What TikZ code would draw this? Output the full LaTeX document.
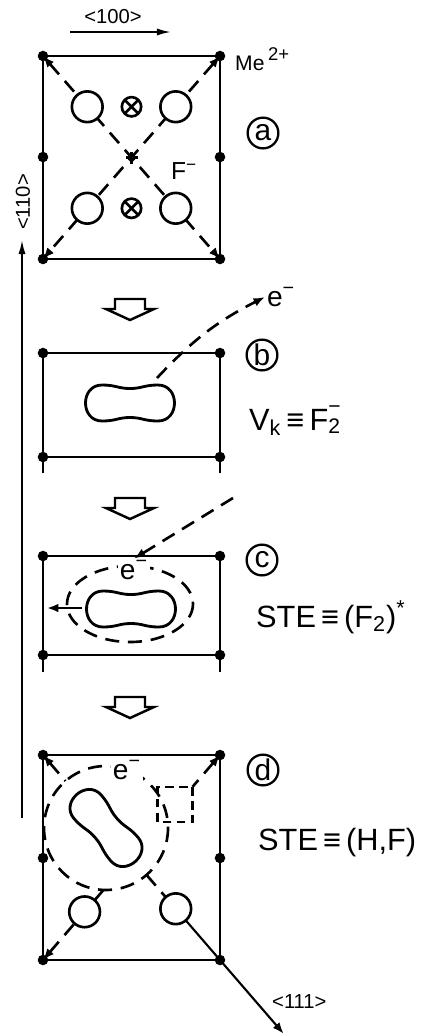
\documentclass[tikz,border=0pt]{standalone}
\usepackage{fontspec}
\setmainfont{Liberation Sans}
\usetikzlibrary{arrows.meta,calc}

\tikzset{
  frame/.style={line width=1.6pt},
  diag/.style={line width=1.5pt, dash pattern=on 8pt off 5pt},
  site/.style={circle, fill, inner sep=0pt, minimum size=6pt},
  ion/.style={circle, draw, fill=white, line width=1.5pt, minimum size=17.5pt, inner sep=0pt},
  hole/.style={circle, draw, fill=white, line width=1.5pt, minimum size=11pt, inner sep=0pt,
    path picture={\draw[line width=1.5pt] (path picture bounding box.north west) -- (path picture bounding box.south east)
      (path picture bounding box.north east) -- (path picture bounding box.south west);}},
  tag/.style={circle, draw, line width=1.3pt, minimum size=17.5pt, inner sep=0pt, font=\fontsize{17}{17}\selectfont},
  big/.style={font=\fontsize{17.5}{18}\selectfont},
  small/.style={font=\fontsize{11.5}{12}\selectfont},
  elec/.style={font=\fontsize{16}{16}\selectfont, inner sep=1pt, fill=white},
  axis/.style={line width=1pt, -{Latex[length=8pt,width=4pt]}}
}

% subscript with a superscript stacked above it
\newcommand{\subsup}[2]{\makebox[0pt][l]{\raisebox{-.12em}{\fontsize{12}{12}\selectfont #1}}\raisebox{.55em}{\fontsize{12}{12}\selectfont #2}}
% F2 molecule outline, drawn round the origin and moved by the options
\newcommand{\molecule}[1]{\draw[frame,#1] (-28,-18) .. controls (-14,-18) and (-12,-14.5) .. (0,-14.5)
  .. controls (12,-14.5) and (14,-18) .. (28,-18) .. controls (50,-18) and (50,18) .. (28,18)
  .. controls (14,18) and (12,14.5) .. (0,14.5) .. controls (-12,14.5) and (-14,18) .. (-28,18)
  .. controls (-50,18) and (-50,-18) .. (-28,-18) -- cycle;}

\begin{document}
\begin{tikzpicture}[x=0.02cm, y=-0.02cm, >={Latex[length=6.5pt,width=5pt]}]
\useasboundingbox (0,0) rectangle (422,1036);

% crystal axes
\node[small] (l100) at (113,17) {<100>};
\coordinate (x0) at (70,32);
\coordinate (x1) at (171,32);
\draw[axis] (x0) -- (x1);
\node[small, rotate=90] (l110) at (23,202) {<110>};
\coordinate (y0) at (22,818);
\coordinate (y1) at (22,240);
\draw[axis] (y0) -- (y1);

% (a) undisturbed lattice
\coordinate (a1) at (43,56);
\coordinate (a2) at (220,56);
\coordinate (a3) at (43,259);
\coordinate (a4) at (220,259);
\coordinate (a5) at (43,157);
\coordinate (a6) at (220,157);
\coordinate (ac) at ($(a1)!0.5!(a4)$);
\draw[frame] (a1) rectangle (a4);
\draw[diag,<->] (a1) -- (a4);
\draw[diag,<->] (a2) -- (a3);
\draw[frame] ($(ac)+(-6,0)$) -- ($(ac)+(6,0)$) ($(ac)+(0,-6)$) -- ($(ac)+(0,6)$);
\node[ion] (fa1) at ($(a1)!0.25!(a4)$) {};
\node[ion] (fa2) at ($(a2)!0.25!(a3)$) {};
\node[ion] (fa3) at ($(a2)!0.75!(a3)$) {};
\node[ion] (fa4) at ($(a1)!0.75!(a4)$) {};
\node[hole] (va1) at ($(fa1)!0.5!(fa2)$) {};
\node[hole] (va2) at ($(fa3)!0.5!(fa4)$) {};
\foreach \p in {a1,a2,a3,a4,a5,a6} \node[site] (s-\p) at (\p) {};
\node[font=\fontsize{14}{14}\selectfont] (fminus) at (184,171) {F\textsuperscript{−}};
\node[anchor=west, font=\fontsize{12}{12}\selectfont] (me) at (229,59) {Me\,\raisebox{.45em}{\fontsize{10.5}{10}\selectfont 2+}};
\node[tag] (ta) at (263,133) {a};

% steps between the panels
\foreach \y in {299,498,697}
  \draw[line width=1.4pt] (115,\y) -- (145,\y) -- (145,\y+10) -- (154,\y+10) -- (130,\y+21) -- (106,\y+10) -- (115,\y+10) -- cycle;

% (b) self-trapped hole
\coordinate (b1) at (43,353);
\coordinate (b2) at (220,353);
\coordinate (b3) at (43,457);
\coordinate (b4) at (220,457);
\draw[frame] ($(b3)+(0,16)$) -- (b1) -- (b2) -- ($(b4)+(0,16)$);
\draw[frame] (b3) -- (b4);
\foreach \p in {b1,b2,b3,b4} \node[site] (s-\p) at (\p) {};
\molecule{shift={(130,403)}}
\coordinate (bout) at (157,378);
\node[elec, fill=none, anchor=west] (eb) at (265,297) {e\textsuperscript{−}};
\draw[diag,->] (bout) to[bend left=10] (eb.west);
\node[tag] (tb) at (262,355) {b};
\node[big, anchor=base west] (vk) at (243,430) {V\textsubscript{k}\,≡\,F\subsup{2}{−}};

% (c) electron caught by the hole
\coordinate (c1) at (43,556);
\coordinate (c2) at (220,556);
\coordinate (c3) at (43,655);
\coordinate (c4) at (220,655);
\draw[frame] ($(c3)+(0,17)$) -- (c1) -- (c2) -- ($(c4)+(0,17)$);
\draw[frame] (c3) -- (c4);
\foreach \p in {c1,c2,c3,c4} \node[site] (s-\p) at (\p) {};
\draw[diag] (130,604) ellipse (63 and 38);
\molecule{shift={(131,609)}}
\node[elec] (ec) at (134,570) {e\textsuperscript{−}};
\coordinate (cin) at (233,498);
\draw[diag,->] (cin) -- (ec.north);
\coordinate (cl0) at (82,608);
\coordinate (cl1) at (47,608);
\draw[frame,->] (cl0) -- (cl1);
\node[tag] (tc) at (262,560) {c};
\node[big, anchor=base west] (stec) at (250,627) {STE\,≡\,(F\textsubscript{2})\textsuperscript{*}};

% (d) relaxed exciton: H centre next to an F centre
\coordinate (d1) at (43,755);
\coordinate (d2) at (220,755);
\coordinate (d3) at (43,960);
\coordinate (d4) at (220,960);
\coordinate (d5) at (43,858);
\coordinate (d6) at (220,858);
\coordinate (dh) at ($(d1)!0.356!(d4)$);
\coordinate (sq) at ($(d2)!0.155!(d3)$);
\coordinate (d111) at ($(d1)!1.36!(d4)$);
\draw[frame] (d1) rectangle (d4);
\draw[diag,<-] (d1) -- ($(d1)!0.127!(d4)$);
\draw[diag] ($(d1)!0.585!(d4)$) -- ($(d1)!0.75!(d4)$);
\draw[line width=1.2pt,->] ($(d1)!0.75!(d4)$) -- (d111);
\draw[diag,<-] (d2) -- (sq);
\draw[diag,->] ($(d2)!0.658!(d3)$) -- (d3);
\draw[diag] (dh) circle (62);
\draw[line width=1.3pt, dash pattern=on 5pt off 3pt] (sq) rectangle ++(-35,35);
\molecule{shift={(dh)}, rotate=-49}
\node[ion] (fd1) at ($(d2)!0.765!(d3)$) {};
\node[ion] (fd2) at ($(d1)!0.75!(d4)$) {};
\foreach \p in {d1,d2,d3,d4,d5,d6} \node[site] (s-\p) at (\p) {};
\node[elec] (ed) at (127,770) {e\textsuperscript{−}};
\node[tag] (td) at (263,770) {d};
\node[big, anchor=base west] (sted) at (252,850) {STE\,≡\,(H,F)};
\node[small, anchor=base west] (l111) at (266,1008) {<111>};
\end{tikzpicture}
\end{document}
